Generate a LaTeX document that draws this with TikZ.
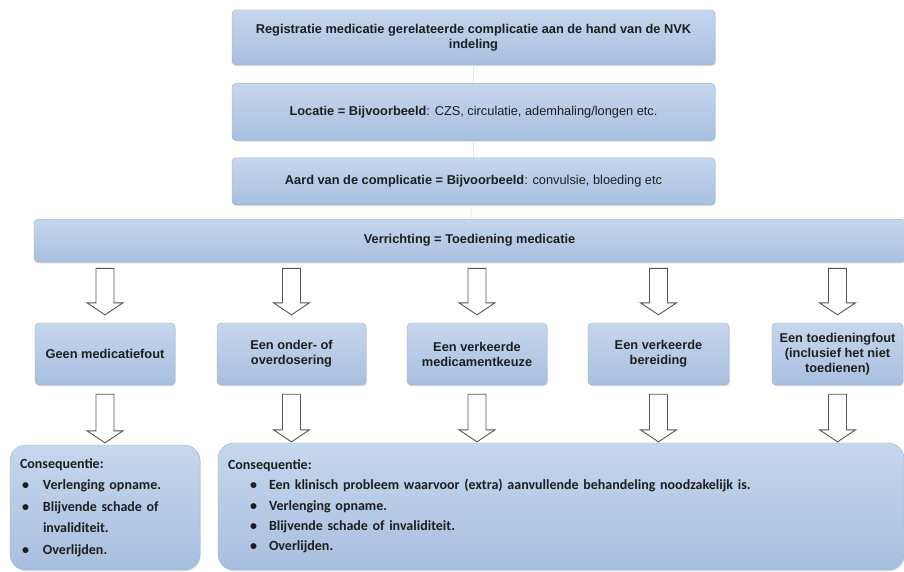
\documentclass[tikz,border=0pt]{standalone}
\usepackage{fontspec}
\setsansfont{Liberation Sans}
\newfontfamily\consfont{Carlito}
\usetikzlibrary{calc, positioning, shadows}

\definecolor{boxtop}{HTML}{C6D7EE}
\definecolor{boxmid}{HTML}{EBF1F9}
\definecolor{boxbot}{HTML}{A7BFDF}
\definecolor{boxline}{HTML}{9AAFCB}
\definecolor{arrowline}{HTML}{555555}
\definecolor{txt}{HTML}{1E1E1E}

% hollow block arrow, from the top of its shaft down to its tip
\newcommand{\hollowarrow}[2]{%
  \draw[blockarrow] let \p1=(#1), \p2=(#2) in
    (\x1-9pt,\y1) -- (\x1+9pt,\y1) -- (\x1+9pt,\y2+12pt) -- (\x1+18pt,\y2+12pt)
    -- (\x1,\y2) -- (\x1-18pt,\y2+12pt) -- (\x1-9pt,\y2+12pt) -- cycle;}
\newcommand{\consitem}[2]{\hspace*{#1}\makebox[#2][l]{\textbullet}}

\begin{document}
\begin{tikzpicture}[
    x=1pt, y=1pt,
    stepbox/.style={draw=boxline, rounded corners=4pt, top color=boxtop, middle color=boxmid,
      bottom color=boxbot, text=txt, align=center, inner sep=2pt,
      drop shadow={shadow xshift=0.8pt, shadow yshift=-1.2pt, opacity=0.25},
      font=\sffamily\bfseries\fontsize{12.8}{15}\selectfont},
    choicebox/.style={stepbox, minimum height=62pt},
    consbox/.style={stepbox, rounded corners=16pt, align=left, inner xsep=10pt},
    link/.style={draw=boxline!30, line width=0.5pt},
    blockarrow/.style={draw=arrowline, fill=white, line width=0.9pt, line join=miter}
]
\useasboundingbox[fill=white] (0,0) rectangle (904,-572);

% Top chain
\node[stepbox, minimum width=483pt, minimum height=55pt] (reg) at (473.5,-37.5)
  {Registratie medicatie gerelateerde complicatie aan de hand van de NVK\\indeling};
\node[stepbox, minimum width=483pt, minimum height=57pt, below=18pt of reg] (loc)
  {Locatie = Bijvoorbeeld\mdseries: CZS, circulatie, ademhaling/longen etc.};
\node[stepbox, minimum width=483pt, minimum height=47pt, below=17pt of loc] (aard)
  {Aard van de complicatie = Bijvoorbeeld\mdseries: convulsie, bloeding etc};
\node[stepbox, minimum width=871pt, minimum height=43pt, below=14pt of aard, xshift=-4pt] (verr)
  {Verrichting = Toediening medicatie};

\draw[link] (reg) -- (loc);
\draw[link] (loc) -- (aard);
\draw[link] (aard) -- (verr);

% Kinds of error
\node[choicebox, minimum width=140pt] (geen) at (105,-354) {Geen medicatiefout};
\node[choicebox, minimum width=149pt] (dosis) at (291.5,-354) {Een onder- of\\overdosering};
\node[choicebox, minimum width=140pt] (keuze) at (477,-354) {Een verkeerde\\medicamentkeuze};
\node[choicebox, minimum width=141pt] (bereid) at (658.5,-354) {Een verkeerde\\bereiding};
\node[choicebox, minimum width=131pt] (toedien) at (837.5,-354)
  {Een toedieningfout\\(inclusief het niet\\toedienen)};

% Consequences
\node[consbox, minimum width=190pt, minimum height=125pt, text width=170pt,
  font=\consfont\bfseries\fontsize{14}{21.5}\selectfont] (gevolg1) at (105,-507.5)
  {Consequentie:\\
   \consitem{2pt}{21pt}Verlenging opname.\\
   \consitem{2pt}{21pt}Blijvende schade of\\
   \hspace*{23pt}invaliditeit.\\
   \consitem{2pt}{21pt}Overlijden.};
\node[consbox, minimum width=686pt, minimum height=127pt, text width=666pt,
  font=\consfont\bfseries\fontsize{14}{20.3}\selectfont] (gevolg2) at (561,-506.5)
  {Consequentie:\\
   \consitem{22pt}{19pt}Een klinisch probleem waarvoor (extra) aanvullende behandeling noodzakelijk is.\\
   \consitem{22pt}{19pt}Verlenging opname.\\
   \consitem{22pt}{19pt}Blijvende schade of invaliditeit.\\
   \consitem{22pt}{19pt}Overlijden.};

% Arrows
\hollowarrow{$(verr.south -| geen)+(0,-6)$}{$(geen.north)+(0,8)$}
\hollowarrow{$(verr.south -| dosis)+(0,-6)$}{$(dosis.north)+(0,8)$}
\hollowarrow{$(verr.south -| keuze)+(0,-6)$}{$(keuze.north)+(0,8)$}
\hollowarrow{$(verr.south -| bereid)+(0,-6)$}{$(bereid.north)+(0,8)$}
\hollowarrow{$(verr.south -| toedien)+(0,-6)$}{$(toedien.north)+(0,8)$}

\hollowarrow{$(geen.south)+(0,-9)$}{$(geen |- gevolg1.north)+(0,2)$}
\hollowarrow{$(dosis.south)+(0,-9)$}{$(dosis |- gevolg2.north)+(0,1)$}
\hollowarrow{$(keuze.south)+(0,-9)$}{$(keuze |- gevolg2.north)+(0,1)$}
\hollowarrow{$(bereid.south)+(0,-9)$}{$(bereid |- gevolg2.north)+(0,1)$}
\hollowarrow{$(toedien.south)+(0,-9)$}{$(toedien |- gevolg2.north)+(0,1)$}

\end{tikzpicture}
\end{document}
